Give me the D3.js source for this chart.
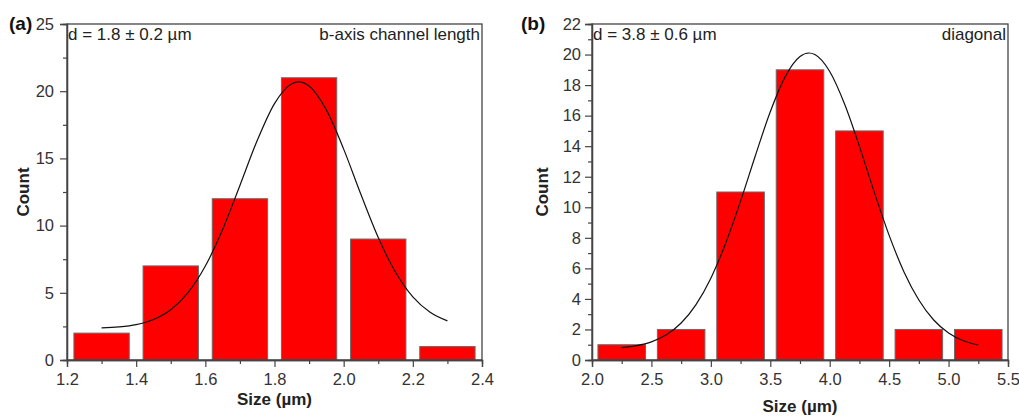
<!DOCTYPE html>
<html><head><meta charset="utf-8">
<script src="https://cdn.jsdelivr.net/npm/d3@7"></script>
<style>body{margin:0;background:#fff}svg{display:block}text{font-family:"Liberation Sans",Arial,sans-serif}</style>
</head><body><svg id="c" width="1019" height="416"></svg>
<script>
// Panel (a)
const aCenters = [1.3, 1.5, 1.7, 1.9, 2.1, 2.3];
const aCounts = [2, 7, 12, 21, 9, 1];
const aBarWidth = 0.16;
const aFitX = [1.30,1.35,1.40,1.45,1.50,1.55,1.60,1.65,1.70,1.75,1.80,1.85,1.87,1.90,1.95,2.00,2.05,2.10,2.15,2.20,2.25,2.30];
const aFitY = [2.39,2.46,2.63,3.01,3.74,5.01,6.99,9.71,12.99,16.33,19.08,20.56,20.70,20.39,18.61,15.69,12.31,9.11,6.53,4.70,3.55,2.91];
const aXTicks = [1.2,1.4,1.6,1.8,2.0,2.2,2.4];
const aYTicks = [0,5,10,15,20,25];
// Panel (b)
const bCenters = [2.25, 2.75, 3.25, 3.75, 4.25, 4.75, 5.25];
const bCounts = [1, 2, 11, 19, 15, 2, 2];
const bBarWidth = 0.4;
const bFitX = [2.25,2.375,2.5,2.625,2.75,2.875,3.0,3.125,3.25,3.375,3.5,3.625,3.75,3.825,3.875,4.0,4.125,4.25,4.375,4.5,4.625,4.75,4.875,5.0,5.125,5.25];
const bFitY = [0.81,0.94,1.19,1.65,2.42,3.63,5.36,7.65,10.40,13.39,16.25,18.54,19.87,20.10,20.00,18.89,16.76,13.99,10.99,8.16,5.77,3.93,2.62,1.77,1.26,0.98];
const bXTicks = [2.0,2.5,3.0,3.5,4.0,4.5,5.0,5.5];
const bYTicks = [0,2,4,6,8,10,12,14,16,18,20,22];

const svg = d3.select("#c");
const FONT = "'Liberation Sans',Arial,sans-serif";

function panel(o){
  const g = svg.append("g");
  const x = d3.scaleLinear().domain(o.xd).range([o.x0, o.x1]);
  const y = d3.scaleLinear().domain(o.yd).range([o.y1, o.y0]);
  g.selectAll("rect.bar").data(o.centers).enter().append("rect")
    .attr("x", (d)=>x(d - o.bw/2)).attr("width", (d)=>x(d+o.bw/2)-x(d-o.bw/2))
    .attr("y", (d,i)=>y(o.counts[i])).attr("height", (d,i)=>y(0)-y(o.counts[i]))
    .attr("fill", "#ff0000").attr("stroke", "#6a6a6a").attr("stroke-width", 1);
  const pts = o.fx.map((v,i)=>[v, o.fy[i]]);
  g.append("path").datum(pts)
    .attr("d", d3.line().x(d=>x(d[0])).y(d=>y(d[1])).curve(d3.curveMonotoneX))
    .attr("fill","none").attr("stroke","#111").attr("stroke-width",1.2);
  g.append("rect").attr("x", o.x0).attr("y", o.y0).attr("width", o.x1-o.x0).attr("height", o.y1-o.y0)
    .attr("fill","none").attr("stroke","#444").attr("stroke-width",1.3);
  const xa = g.append("g").attr("transform",`translate(0,${o.y1})`)
    .call(d3.axisBottom(x).tickValues(o.xt).tickFormat(d3.format(".1f")).tickSize(7).tickPadding(6));
  const xm = g.append("g").attr("transform",`translate(0,${o.y1})`)
    .call(d3.axisBottom(x).tickValues(o.xm).tickFormat("").tickSize(4));
  const ya = g.append("g").attr("transform",`translate(${o.x0},0)`)
    .call(d3.axisLeft(y).tickValues(o.yt).tickFormat(d3.format("d")).tickSize(7).tickPadding(o.ypad));
  const ym = g.append("g").attr("transform",`translate(${o.x0},0)`)
    .call(d3.axisLeft(y).tickValues(o.ym).tickFormat("").tickSize(4));
  [xa,xm,ya,ym].forEach(a=>{
    a.select(".domain").attr("stroke","#444").attr("stroke-width",1.3);
    a.selectAll(".tick line").attr("stroke","#444").attr("stroke-width",1.2);
    a.selectAll(".tick text").attr("fill","#333").style("font-size","16.5px").style("font-family",FONT);
  });
  g.append("text").attr("x",o.lx).attr("y",30).text(o.label)
    .style("font-size","19px").style("font-weight","bold").attr("fill","#111");
  g.append("text").attr("x",(o.x0+o.x1)/2).attr("y",o.xty).attr("text-anchor","middle")
    .text("Size (µm)").style("font-size","17px").style("font-weight","bold").attr("fill","#222");
  g.append("text").attr("transform",`translate(${o.ytx},${(o.y0+o.y1)/2}) rotate(-90)`).attr("text-anchor","middle")
    .text("Count").style("font-size","17px").style("font-weight","bold").attr("fill","#222");
  g.append("text").attr("x",o.x0+1).attr("y",40).text(o.ann1).style("font-size","17px").attr("fill","#222");
  g.append("text").attr("x",o.x1-2).attr("y",40).attr("text-anchor","end").text(o.ann2).style("font-size","17px").attr("fill","#222");
}

panel({xd:[1.2,2.4], yd:[0,25], x0:67, x1:482, y0:24, y1:360,
  centers:aCenters, counts:aCounts, bw:aBarWidth, fx:aFitX, fy:aFitY,
  xt:aXTicks, xm:[1.3,1.5,1.7,1.9,2.1,2.3], yt:aYTicks, ym:[2.5,7.5,12.5,17.5,22.5], ypad:6,
  label:"(a)", lx:9, xty:405, ytx:29, ann1:"d = 1.8 ± 0.2 µm", ann2:"b-axis channel length"});
panel({xd:[2.0,5.5], yd:[0,22], x0:592, x1:1008, y0:24, y1:360,
  centers:bCenters, counts:bCounts, bw:bBarWidth, fx:bFitX, fy:bFitY,
  xt:bXTicks, xm:[2.25,2.75,3.25,3.75,4.25,4.75,5.25], yt:bYTicks, ym:[1,3,5,7,9,11,13,15,17,19,21], ypad:4,
  label:"(b)", lx:521, xty:412, ytx:548, ann1:"d = 3.8 ± 0.6 µm", ann2:"diagonal"});
</script></body></html>
